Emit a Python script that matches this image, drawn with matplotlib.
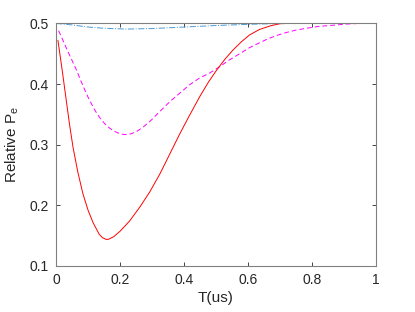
import matplotlib
matplotlib.use('Agg')
import matplotlib.pyplot as plt

plt.rcParams['font.family'] = ['Liberation Sans', 'DejaVu Sans']

# Data
t_red = [0.006, 0.02, 0.032, 0.042, 0.053, 0.068, 0.084, 0.10, 0.116, 0.126,
         0.135, 0.145, 0.157, 0.165, 0.18, 0.2, 0.23, 0.262, 0.293, 0.325,
         0.356, 0.387, 0.418, 0.449, 0.475, 0.502, 0.528, 0.553, 0.58,
         0.605, 0.636, 0.67, 0.70, 0.73, 1.0]
pe_red = [0.472, 0.42, 0.373, 0.334, 0.296, 0.255, 0.219, 0.192, 0.171, 0.161,
          0.152, 0.1465, 0.1435, 0.144, 0.148, 0.157, 0.174, 0.197, 0.222, 0.252,
          0.285, 0.318, 0.349, 0.379, 0.402, 0.423, 0.441, 0.456, 0.470,
          0.481, 0.490, 0.496, 0.4995, 0.5, 0.5]

t_mag = [0.008, 0.02, 0.035, 0.05, 0.064, 0.077, 0.09, 0.103, 0.116, 0.128,
         0.14, 0.155, 0.168, 0.182, 0.195, 0.208, 0.221, 0.235, 0.25, 0.27,
         0.293, 0.325, 0.356, 0.387, 0.418, 0.449, 0.48, 0.507, 0.54, 0.574,
         0.605, 0.636, 0.66, 0.689, 0.72, 0.75, 0.783, 0.82, 0.866, 0.91,
         0.95, 1.0]
pe_mag = [0.488, 0.474, 0.456, 0.439, 0.423, 0.406, 0.390, 0.375, 0.362, 0.351,
          0.342, 0.333, 0.327, 0.322, 0.319, 0.317, 0.3165, 0.318, 0.321, 0.328,
          0.338, 0.355, 0.371, 0.385, 0.399, 0.410, 0.418, 0.427, 0.439, 0.450,
          0.460, 0.468, 0.474, 0.480, 0.485, 0.489, 0.492, 0.495, 0.497, 0.499,
          0.5, 0.5]

t_cyan = [0.0, 0.05, 0.1, 0.15, 0.22, 0.3, 0.4, 0.5, 0.6, 0.7, 1.0]
pe_cyan = [0.5, 0.4975, 0.494, 0.492, 0.4906, 0.4915, 0.494, 0.4965, 0.4985,
           0.4998, 0.5]

xticks = [0, 0.2, 0.4, 0.6, 0.8, 1]
xticklabels = ['0', '0.2', '0.4', '0.6', '0.8', '1']
yticks = [0.1, 0.2, 0.3, 0.4, 0.5]
yticklabels = ['0.1', '0.2', '0.3', '0.4', '0.5']

fig = plt.figure(figsize=(4.15, 3.12), dpi=100)
ax = fig.add_axes([0.135, 0.148, 0.771, 0.777])

ax.plot(t_cyan, pe_cyan, color='#4a9ad6', lw=0.7, linestyle='-.')
ax.plot(t_mag, pe_mag, color='#ff00ff', lw=0.7, linestyle='--', dashes=(5, 3))
ax.plot(t_red, pe_red, color='#ff0000', lw=0.7)

ax.set_xlim(0, 1)
ax.set_ylim(0.1, 0.5)
ax.set_xticks(xticks)
ax.set_xticklabels(xticklabels)
ax.set_yticks(yticks)
ax.set_yticklabels(yticklabels)

ax.tick_params(direction='in', top=True, right=True, length=3, width=0.6,
               labelsize=10, colors='#262626', pad=5)
for s in ax.spines.values():
    s.set_color('#808080')
    s.set_linewidth(0.8)

ax.set_xlabel('T(us)', fontsize=11, color='#262626', labelpad=3)
ax.set_ylabel('Relative P$_\\mathregular{e}$', fontsize=11, color='#262626', labelpad=6)

fig.savefig('out.png', dpi=100)
